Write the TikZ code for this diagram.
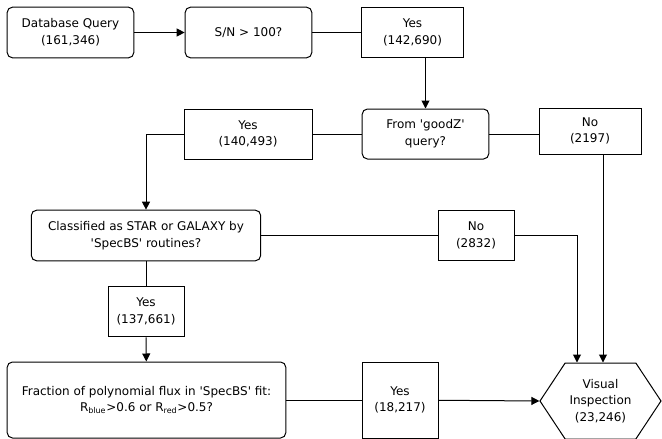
\documentclass[tikz,border=0pt]{standalone}
\usepackage{fontspec}
\setmainfont{DejaVu Sans}
\usetikzlibrary{arrows.meta,shapes.symbols,calc}

\tikzset{
  test/.style={draw, rounded corners=4pt, align=center, line width=0.75pt, inner sep=0pt},
  count/.style={draw, align=center, line width=0.75pt, inner sep=0pt},
  link/.style={line width=0.75pt},
}

\begin{document}
\begin{tikzpicture}[x=0.75pt, y=-0.75pt, >={Triangle[length=6pt,width=6pt]},
  every node/.style={font=\fontsize{9}{12.5}\selectfont}]
                \useasboundingbox (0,0) rectangle (662,439);
                \node [test, minimum width=95pt, minimum height=38pt] (query) at (70.5,32.5) {Database Query\\(161,346)};
                \node [test, minimum width=95pt, minimum height=38pt] (sn) at (248.5,32.5) {S/N > 100?};
                \node [count, minimum width=76pt, minimum height=38pt] (yesA) at (412.5,32.5) {Yes\\(142,690)};
                \node [test, minimum width=95pt, minimum height=37.5pt] (goodz) at (425.5,134) {From \textquotesingle goodZ\textquotesingle\\query?};
                \node [count, minimum width=76.5pt, minimum height=34.5pt] (noA) at (590,131) {No\\(2197)};
                \node [count, minimum width=96pt, minimum height=37.5pt] (yesB) at (248,134) {Yes\\(140,493)};
                \node [test, minimum width=172pt, minimum height=38pt] (classif) at (146,235.5) {Classified as STAR or GALAXY by\\\textquotesingle SpecBS\textquotesingle\ routines?};
                \node [count, minimum width=57pt, minimum height=38pt] (noB) at (476,235.5) {No\\(2832)};
                \node [count, minimum width=57pt, minimum height=38pt] (yesC) at (146,311.5) {Yes\\(137,661)};
                \node [test, minimum width=209pt, minimum height=57pt] (frac) at (146.5,400) {Fraction of polynomial flux in \textquotesingle SpecBS\textquotesingle\ fit:\\R\textsubscript{blue}>0.6 or R\textsubscript{red}>0.5?};
                \node [count, minimum width=57pt, minimum height=57pt] (yesD) at (400,400) {Yes\\(18,217)};
                \node [draw, signal, signal to=east and west, signal pointer angle=113, line width=0.75pt,
                       minimum width=90.75pt, minimum height=57pt, inner sep=0pt, align=center] (visual) at (600.5,401) {Visual\\Inspection\\(23,246)};
                \coordinate (drop) at ($(noA.south)+(13,0)$);
                \coordinate (join) at ($(visual.north)+(-23.5,0)$);
                \draw [link, ->] (query) -- (sn);
                \draw [link] (sn) -- (yesA);
                \draw [link, ->] (yesA.south -| goodz.north) -- (goodz.north);
                \draw [link] (goodz) -- (yesB);
                \draw [link, ->] (yesB.west) -| (classif.north);
                \draw [link] (goodz.east) -- (goodz.east -| noA.west);
                \draw [link, ->] (drop) -- (drop |- visual.north);
                \draw [link] (classif.east |- noB.west) -- (noB.west);
                \draw [link, ->] (noB.east) -| (join);
                \draw [link] (classif) -- (yesC);
                \draw [link, ->] (yesC) -- (frac);
                \draw [link] (frac) -- (yesD);
                \draw [link, ->] (yesD) -- (visual.west);
            \end{tikzpicture}
\end{document}
